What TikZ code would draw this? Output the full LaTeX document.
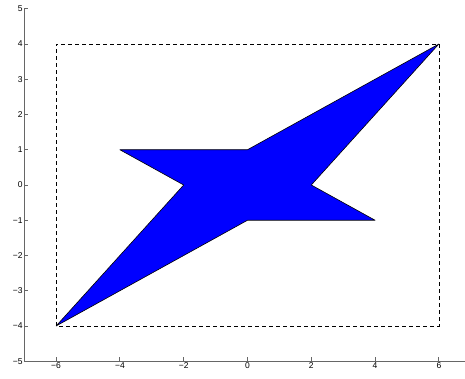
\documentclass[tikz,border=0pt]{standalone}
\usepackage{fontspec}
\setmainfont{Liberation Sans}
\begin{document}
\begin{tikzpicture}[x=31.9pt,y=35.25pt,
    axisline/.style={draw=black!60,line width=0.9pt},
    ticklabel/.style={font=\fontsize{8.5}{9}\selectfont,inner sep=1.5pt}]
                \useasboundingbox (-7.758,-5.475) rectangle (6.818,5.248);
                \coordinate (O) at (-7,-5);
                \coordinate (Ytop) at (-7,5);
                \coordinate (Xend) at (6.818,-5);

                % shape
                \coordinate (P1) at (-6,-4);
                \coordinate (P2) at (-2,0);
                \coordinate (P3) at (-4,1);
                \coordinate (P4) at (0,1);
                \coordinate (P5) at (6,4);
                \coordinate (P6) at (2,0);
                \coordinate (P7) at (4,-1);
                \coordinate (P8) at (0,-1);
                \filldraw[fill=blue,draw=black,line width=0.6pt,line join=round]
                    (P1) -- (P2) -- (P3) -- (P4) -- (P5) -- (P6) -- (P7) -- (P8) -- cycle;

                \draw[dashed,line width=0.7pt,dash pattern=on 4pt off 3pt] (P1) rectangle (P5);

                \draw[axisline] (Ytop) -- (O) -- (Xend);
                \foreach \y/\ytext in {-5/−5,-4/−4,-3/−3,-2/−2,-1/−1,0/0,1/1,2/2,3/3,4/4,5/5} {
                    \draw[axisline] (-7,\y) -- ++(4pt,0);
                    \node[ticklabel,left] (ylab\y) at (-7,\y) {\ytext};
                }
                \foreach \x/\xtext in {-6/−6,-4/−4,-2/−2,0/0,2/2,4/4,6/6} {
                    \draw[axisline] (\x,-5) -- ++(0,4pt);
                    \node[ticklabel,below] (xlab\x) at (\x,-5) {\xtext};
                }
            \end{tikzpicture}
\end{document}
